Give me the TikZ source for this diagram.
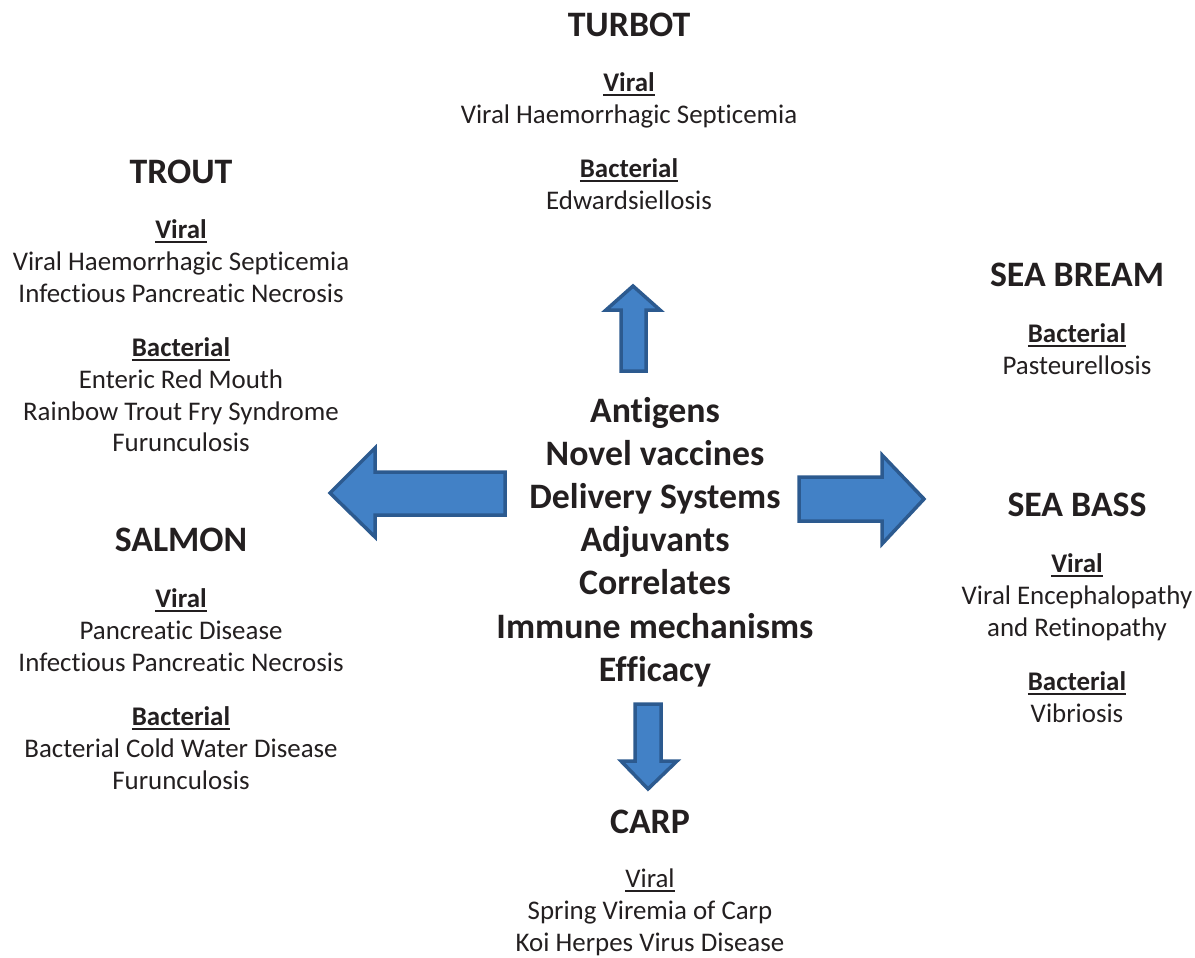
\documentclass[tikz,border=0pt]{standalone}
\usepackage{fontspec}
\setmainfont{Carlito}[Ligatures=NoCommon]
\usetikzlibrary{positioning}
\definecolor{arrowfill}{HTML}{4281C6}
\definecolor{arrowline}{HTML}{2C5A8F}
\definecolor{ink}{HTML}{231F20}
\newcommand{\uln}[1]{\setbox0=\hbox{#1}\rlap{\rule[-4.5pt]{\wd0}{2pt}}\box0}
\newcommand{\bigfont}{\fontsize{35.8}{43.2}\selectfont\bfseries}
\newcommand{\smallfont}{\fontsize{26.9}{32}\selectfont}

\begin{document}
\begin{tikzpicture}[x=1pt, y=-1pt,
  fishname/.style={anchor=base, inner sep=0pt, text=ink, font=\bigfont},
  fishlist/.style={anchor=base, inner sep=0pt, text=ink, font=\smallfont},
  blockarrow/.style={fill=arrowfill, draw=arrowline, line width=3.5pt, line join=miter}]
\useasboundingbox (0,0) rectangle (1195,958);

\def\xa{181}
\def\xb{629}
\def\xc{650}
\def\xd{655}
\def\xe{1077}

\node[fishname] (turbot) at (\xb, 37) {TURBOT};
\node[fishlist] (turbotlist) at (\xb, 92) {\begin{tabular}[t]{@{}c@{}}
  \textbf{\uln{Viral}}\\ Viral Haemorrhagic Septicemia\\[22pt]
  \textbf{\uln{Bacterial}}\\ Edwardsiellosis\end{tabular}};

\node[fishname] (trout) at (\xa, 183) {TROUT};
\node[fishlist] (troutlist) at (\xa, 238) {\begin{tabular}[t]{@{}c@{}}
  \textbf{\uln{Viral}}\\ Viral Haemorrhagic Septicemia\\ Infectious Pancreatic Necrosis\\[22pt]
  \textbf{\uln{Bacterial}}\\ Enteric Red Mouth\\ Rainbow Trout Fry Syndrome\\ Furunculosis\end{tabular}};

\node[fishname] (salmon) at (\xa, 551) {SALMON};
\node[fishlist] (salmonlist) at (\xa, 607) {\begin{tabular}[t]{@{}c@{}}
  \textbf{\uln{Viral}}\\ Pancreatic Disease\\ Infectious Pancreatic Necrosis\\[22pt]
  \textbf{\uln{Bacterial}}\\ Bacterial Cold Water Disease\\ Furunculosis\end{tabular}};

\node[fishname] (bream) at (\xe, 286) {SEA BREAM};
\node[fishlist] (breamlist) at (\xe, 342) {\begin{tabular}[t]{@{}c@{}}
  \textbf{\uln{Bacterial}}\\ Pasteurellosis\end{tabular}};

\node[fishname] (bass) at (\xe, 516) {SEA BASS};
\node[fishlist] (basslist) at (\xe, 572) {\begin{tabular}[t]{@{}c@{}}
  \textbf{\uln{Viral}}\\ Viral Encephalopathy\\ and Retinopathy\\[22pt]
  \textbf{\uln{Bacterial}}\\ Vibriosis\end{tabular}};

\node[fishname] (carp) at (\xc, 833) {CARP};
\node[fishlist] (carplist) at (\xc, 887) {\begin{tabular}[t]{@{}c@{}}
  \uln{Viral}\\ Spring Viremia of Carp\\ Koi Herpes Virus Disease\end{tabular}};

\node[fishname] (topics) at (\xd, 422) {\begin{tabular}[t]{@{}c@{}}
  Antigens\\ Novel vaccines\\ Delivery Systems\\ Adjuvants\\ Correlates\\ Immune mechanisms\\ Efficacy\end{tabular}};

\draw[blockarrow] (621,371) -- (621,310) -- (606,310) -- (633,286) -- (660,310) -- (646,310) -- (646,371) -- cycle;
\draw[blockarrow] (505,472) -- (375,472) -- (375,448) -- (330,493) -- (375,537) -- (375,515) -- (505,515) -- cycle;
\draw[blockarrow] (799,477) -- (882,477) -- (882,455) -- (924,499) -- (882,544) -- (882,521) -- (799,521) -- cycle;
\draw[blockarrow] (635,704) -- (661,704) -- (661,761) -- (677,761) -- (648,789) -- (621,761) -- (635,761) -- cycle;
\end{tikzpicture}
\end{document}
